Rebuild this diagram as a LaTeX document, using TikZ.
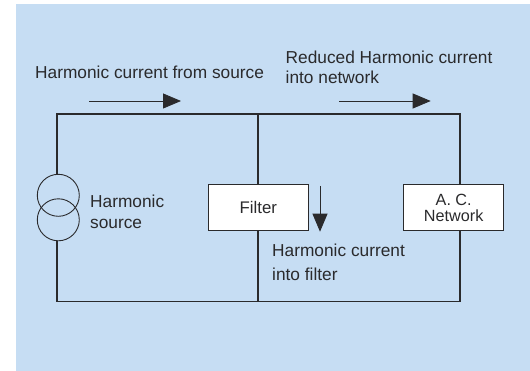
\documentclass[tikz,border=0pt]{standalone}
\usepackage{fontspec}
\setmainfont{Liberation Sans}
\usetikzlibrary{arrows.meta}
\definecolor{panel}{HTML}{C6DDF3}
\definecolor{ink}{HTML}{2A2A2C}
\tikzset{
  wire/.style={draw=ink,line width=1.1pt},
  flow/.style={draw=ink,line width=0.8pt,-{Triangle[length=18pt,width=15pt,fill=ink]}},
  box/.style={draw=ink,line width=1.1pt,fill=white,minimum width=100pt,minimum height=46.5pt,inner sep=0pt,align=center,text=ink,font=\fontsize{16.8}{18}\selectfont},
  coil/.style={circle,draw=ink,line width=0.9pt,minimum size=42pt,inner sep=0pt},
  lab/.style={anchor=base west,inner sep=0pt,align=left,text=ink,font=\fontsize{17.3}{20.7}\selectfont},
  labtwo/.style={anchor=north west,inner sep=0pt,align=left,text=ink,font=\fontsize{17.3}{20.7}\selectfont},
}
\begin{document}
\begin{tikzpicture}[x=1pt,y=-1pt]
\useasboundingbox (0,0) rectangle (530,371);
\fill[panel] (16,4) rectangle (530,371);
% corners
\coordinate (tl) at (57,114);
\coordinate (tj) at (258,114);
\coordinate (tr) at (460,114);
\coordinate (bl) at (57,301.7);
\coordinate (bj) at (258,301.7);
\coordinate (br) at (460,301.7);
\coordinate (ct) at (57,174.5);
\coordinate (cb) at (57,240.7);
% wires
\draw[wire] (ct) -- (tl) -- (tr) -- (br) -- (bl) -- (cb);
\draw[wire] (tj) -- (bj);
% source
\node[coil] (c1) at (58.3,195.3) {};
\node[coil] (c2) at (58.3,219.8) {};
% boxes
\node[box] (filter) at (258.3,207.7) {\raisebox{-1pt}{Filter}};
\node[box,font=\fontsize{16.2}{16}\selectfont] (net) at (453.7,207.7) {\raisebox{-1pt}{A. C.}\\\raisebox{-1pt}{Network}};
% flow arrows
\coordinate (a1s) at (89.3,101);
\coordinate (a1e) at (181,101);
\coordinate (a2s) at (339,101);
\coordinate (a2e) at (430.7,101);
\coordinate (a3s) at (320,186);
\coordinate (a3e) at (320,231.7);
\draw[flow] (a1s) -- (a1e);
\draw[flow] (a2s) -- (a2e);
\draw[flow] (a3s) -- (a3e);
% labels
\node[lab] (l1) at (35,78.5) {Harmonic current from source};
\node[labtwo] (l2) at (285.5,50.5) {Reduced Harmonic current\\into network};
\node[labtwo] (l3) at (90,195) {Harmonic\\source};
\node[labtwo,font=\fontsize{17.3}{23.7}\selectfont] (l4) at (272,244) {Harmonic current\\into filter};
\end{tikzpicture}
\end{document}
